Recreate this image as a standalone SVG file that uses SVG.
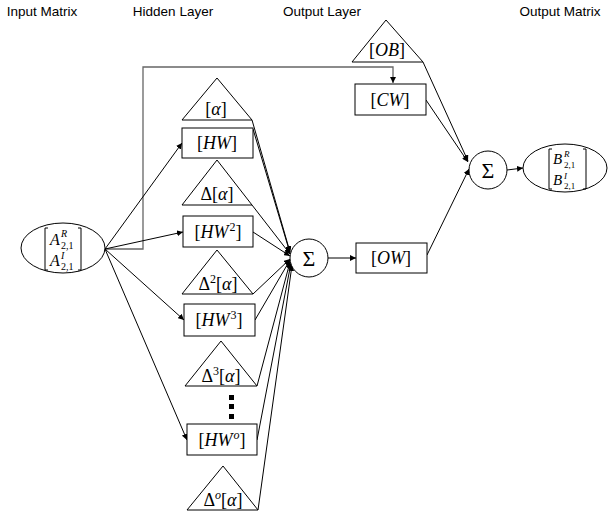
<svg xmlns="http://www.w3.org/2000/svg" width="616" height="516" viewBox="0 0 616 516">
<defs>
<marker id="ah" viewBox="0 0 10 10" refX="10" refY="5" markerWidth="6" markerHeight="6" orient="auto" markerUnits="userSpaceOnUse">
<path d="M0,0 L10,5 L0,10 z" fill="#000"/>
</marker>
<style>
.title{font-family:"Liberation Sans",Arial,sans-serif;font-size:13.5px;fill:#000;text-anchor:middle}
.m{font-family:"Liberation Serif","DejaVu Serif",serif;font-size:18px;fill:#000;text-anchor:middle}
.i{font-style:italic}
.shape{fill:#fff;stroke:#000;stroke-width:1}
.c{fill:none;stroke:#000;stroke-width:1;marker-end:url(#ah)}
.br{fill:none;stroke:#000;stroke-width:1}
.sig{font-family:"Liberation Serif","DejaVu Serif",serif;font-size:22px;fill:#000;text-anchor:middle}
.mx{font-family:"Liberation Serif","DejaVu Serif",serif;fill:#000}
</style>
</defs>
<rect width="616" height="516" fill="#fff"/>
<g id="titles">
<text class="title" x="42" y="16">Input Matrix</text>
<text class="title" x="173" y="16">Hidden Layer</text>
<text class="title" x="322" y="16">Output Layer</text>
<text class="title" x="560" y="16">Output Matrix</text>
</g>
<g id="connectors">
<polyline points="105,249 143,249 143,67 393,67 393,83" fill="none" stroke="#666" stroke-width="1.3" marker-end="url(#ah)"/>
<line class="c" x1="105" y1="249" x2="182" y2="143"/>
<line class="c" x1="105" y1="249" x2="183" y2="232"/>
<line class="c" x1="105" y1="249" x2="184" y2="320"/>
<line class="c" x1="105" y1="249" x2="187" y2="440"/>
<line class="c" x1="252" y1="120" x2="290" y2="252"/>
<line class="c" x1="253" y1="129" x2="290" y2="253"/>
<line class="c" x1="252" y1="205" x2="290" y2="254"/>
<line class="c" x1="253" y1="232" x2="290" y2="256"/>
<line class="c" x1="253" y1="294" x2="290" y2="259"/>
<line class="c" x1="255" y1="320" x2="290" y2="260"/>
<line class="c" x1="257" y1="386" x2="290" y2="262"/>
<line class="c" x1="257" y1="440" x2="291" y2="263"/>
<line class="c" x1="258" y1="510" x2="292" y2="265"/>
<line class="c" x1="328" y1="258" x2="356" y2="258"/>
<line class="c" x1="423" y1="62" x2="468" y2="161"/>
<line class="c" x1="426" y1="100" x2="468" y2="162"/>
<line class="c" x1="427" y1="255" x2="469" y2="169"/>
<line class="c" x1="507" y1="170" x2="523" y2="168"/>
</g>
<g id="input-matrix">
<ellipse class="shape" cx="63" cy="248" rx="42" ry="25"/>
<path class="br" d="M48,228 H45 V270 H48 M78,228 H81 V270 H78"/>
<text class="mx i" x="50" y="245" font-size="16">A</text>
<text class="mx i" x="61" y="237" font-size="10">R</text>
<text class="mx" x="61" y="249" font-size="10">2,1</text>
<text class="mx i" x="50" y="266" font-size="16">A</text>
<text class="mx i" x="61" y="259" font-size="10">I</text>
<text class="mx" x="61" y="270" font-size="10">2,1</text>
</g>
<g id="alpha">
<polygon class="shape" points="217,78 182,120 252,120"/>
<text class="m" x="216" y="115">[<tspan class="i">α</tspan>]</text>
</g>
<g id="hw1">
<rect class="shape" x="182" y="128" width="71" height="30"/>
<text class="m" x="217" y="149">[<tspan class="i">HW</tspan>]</text>
</g>
<g id="dalpha">
<polygon class="shape" points="217,160 182,205 252,205"/>
<text class="m" x="217" y="200">Δ[<tspan class="i">α</tspan>]</text>
</g>
<g id="hw2">
<rect class="shape" x="183" y="216" width="70" height="31"/>
<text class="m" x="218" y="238">[<tspan class="i">HW</tspan><tspan font-size="12" dx="1" dy="-7">2</tspan><tspan dy="7">]</tspan></text>
</g>
<g id="d2alpha">
<polygon class="shape" points="217,250 182,294 253,294"/>
<text class="m" x="218" y="290">Δ<tspan font-size="12" dy="-7">2</tspan><tspan dy="7">[</tspan><tspan class="i">α</tspan>]</text>
</g>
<g id="hw3">
<rect class="shape" x="184" y="304" width="71" height="32"/>
<text class="m" x="219" y="326">[<tspan class="i">HW</tspan><tspan font-size="12" dx="1" dy="-7">3</tspan><tspan dy="7">]</tspan></text>
</g>
<g id="d3alpha">
<polygon class="shape" points="221,341 185,386 257,386"/>
<text class="m" x="221" y="382">Δ<tspan font-size="12" dy="-7">3</tspan><tspan dy="7">[</tspan><tspan class="i">α</tspan>]</text>
</g>
<g id="ellipsis">
<rect x="229" y="395" width="5" height="5" fill="#000"/>
<rect x="229" y="404" width="5" height="5" fill="#000"/>
<rect x="229" y="414" width="5" height="5" fill="#000"/>
</g>
<g id="hwo">
<rect class="shape" x="187" y="424" width="70" height="31"/>
<text class="m" x="222" y="446">[<tspan class="i">HW</tspan><tspan class="i" font-size="12" dx="1" dy="-7">o</tspan><tspan dy="7">]</tspan></text>
</g>
<g id="doalpha">
<polygon class="shape" points="223,466 187,510 258,510"/>
<text class="m" x="223" y="506">Δ<tspan class="i" font-size="12" dy="-7">o</tspan><tspan dy="7">[</tspan><tspan class="i">α</tspan>]</text>
</g>
<g id="sum1">
<circle class="shape" cx="309" cy="258" r="19"/>
<text class="sig" x="309" y="266">Σ</text>
</g>
<g id="ob">
<polygon class="shape" points="386,20 352,62 423,62"/>
<text class="m" x="387" y="56">[<tspan class="i">OB</tspan>]</text>
</g>
<g id="cw">
<rect class="shape" x="355" y="84" width="71" height="31"/>
<text class="m" x="390" y="106">[<tspan class="i">CW</tspan>]</text>
</g>
<g id="ow">
<rect class="shape" x="356" y="243" width="71" height="30"/>
<text class="m" x="391" y="264">[<tspan class="i">OW</tspan>]</text>
</g>
<g id="sum2">
<circle class="shape" cx="488" cy="170" r="19"/>
<text class="sig" x="488" y="178">Σ</text>
</g>
<g id="output-matrix">
<ellipse class="shape" cx="565" cy="168" rx="42" ry="24"/>
<path class="br" d="M552,149 H549 V189 H552 M583,149 H586 V189 H583"/>
<text class="mx i" x="553" y="164" font-size="15">B</text>
<text class="mx i" x="564" y="157" font-size="9">R</text>
<text class="mx" x="564" y="167.5" font-size="9">2,1</text>
<text class="mx i" x="553" y="185" font-size="15">B</text>
<text class="mx i" x="564" y="178.5" font-size="9">I</text>
<text class="mx" x="564" y="188.5" font-size="9">2,1</text>
</g>
</svg>
